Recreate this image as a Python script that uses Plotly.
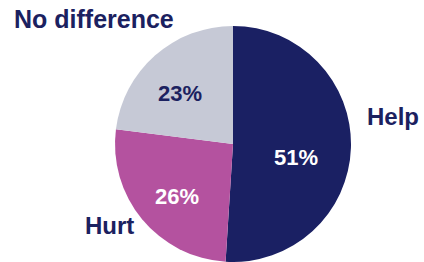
import plotly.graph_objects as go

categories = ["Help", "Hurt", "No difference"]
values = [51, 26, 23]
pct_labels = ["51%", "26%", "23%"]
colors = ["#1a2063", "#b4529f", "#c6c9d6"]

W, H = 424, 262

def fx(px):
    return px / W

def fy(py):
    return 1 - py / H

fig = go.Figure(go.Pie(
    labels=categories, values=values, sort=False, direction="clockwise",
    rotation=0, marker=dict(colors=colors, line=dict(width=0)),
    textinfo="none", hoverinfo="label+percent", showlegend=False,
    domain=dict(x=[fx(115), fx(351)], y=[fy(262), fy(26)]),
))

def ann(text, px, py, size, color):
    fig.add_annotation(x=fx(px), y=fy(py), xref="paper", yref="paper",
                       text="<b>" + text + "</b>", showarrow=False,
                       xanchor="center", yanchor="middle",
                       font=dict(family="Liberation Sans, Arial", size=size, color=color))

navy = "#1b2160"
# category labels
ann(categories[2], 94, 19, 25, navy)
ann(categories[0], 393, 116, 24, navy)
ann(categories[1], 109, 225, 24, navy)
# percentage labels
ann(pct_labels[2], 180, 93, 22, navy)
ann(pct_labels[0], 296, 157, 22, "white")
ann(pct_labels[1], 177, 196, 22, "white")

fig.update_layout(width=W, height=H, margin=dict(l=0, r=0, t=0, b=0),
                  paper_bgcolor="white", plot_bgcolor="white")
fig.write_html("out.html", config={"displayModeBar": False},
               post_script="document.body.style.margin='0';")
